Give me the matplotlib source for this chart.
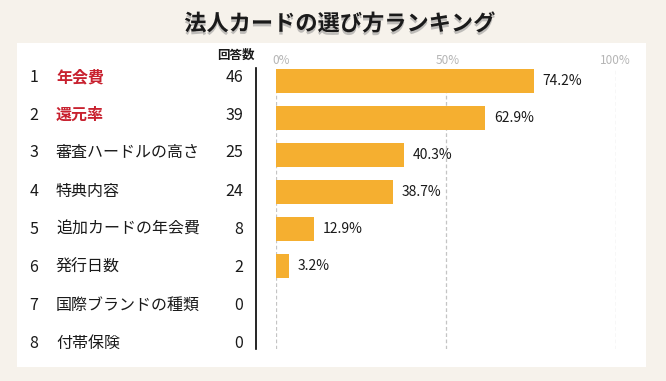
import matplotlib
matplotlib.use('Agg')
import matplotlib.pyplot as plt
import matplotlib.patheffects as pe
from matplotlib.patches import Rectangle

plt.rcParams['font.family'] = ['Noto Sans CJK JP', 'DejaVu Sans']

TITLE = "法人カードの選び方ランキング"
RANKS = [1, 2, 3, 4, 5, 6, 7, 8]
ITEMS = ["年会費", "還元率", "審査ハードルの高さ", "特典内容",
         "追加カードの年会費", "発行日数", "国際ブランドの種類", "付帯保険"]
COUNTS = [46, 39, 25, 24, 8, 2, 0, 0]
PERCENTS = [74.2, 62.9, 40.3, 38.7, 12.9, 3.2, 0, 0]
# bar lengths as drawn in the picture (% of the 0-100 scale)
BAR_LEN = [76.0, 61.6, 37.7, 34.5, 11.3, 3.9, 0, 0]
HIGHLIGHT = [True, True, False, False, False, False, False, False]
XTICKS = [0, 50, 100]

W, H = 666, 381
BG = "#f6f2eb"
BAR = "#f5af30"
RED = "#c8212f"

fig = plt.figure(figsize=(W / 100, H / 100), dpi=100, facecolor=BG)

# white panel (behind the axes)
fig.patches.append(Rectangle((17 / W, 1 - 367 / H), (646 - 17) / W, (367 - 43) / H,
                             transform=fig.transFigure, facecolor="white",
                             edgecolor="none", zorder=-1))

fig.text(340 / W, 1 - 24 / H, TITLE, ha="center", va="center", fontsize=16,
         fontweight="bold", color="#1a1a1a",
         path_effects=[pe.withSimplePatchShadow(offset=(0, -2), shadow_rgbFace="#888888", alpha=0.5)])

# axes: x 0..100 from px 275.7 to 615.7, y top 68 px to bottom 349 px
x0, x1 = 275.7, 615.7
ytop, ybot = 68, 349
ax = fig.add_axes([x0 / W, 1 - ybot / H, (x1 - x0) / W, (ybot - ytop) / H])
ax.set_facecolor("none")
row0, step = 81, 37
ax.set_xlim(0, 100)
ax.set_ylim((ybot - row0) / step, (ytop - row0) / step)

for t in XTICKS:
    ax.axvline(t, color="#c4c4c4", lw=0.9, ls=(0, (3, 2)), zorder=1)

ypos = list(range(len(ITEMS)))
ax.barh(ypos, BAR_LEN, height=24 / step, color=BAR, zorder=2)

for y, b, p in zip(ypos, BAR_LEN, PERCENTS):
    if p > 0:
        ax.annotate(f"{p:.1f}%", (b, y), xytext=(6.2, 0), textcoords="offset points",
                    ha="left", va="center", fontsize=10, color="#1a1a1a")

for s in ax.spines.values():
    s.set_visible(False)
ax.set_xticks([])
ax.set_yticks([])
for t in XTICKS:
    ax.annotate(f"{t}%", (t, (ytop - 8 - row0) / step),
                xytext=(-2.2 if t == 0 else 1.5 if t == 50 else 0, 0),
                textcoords="offset points",
                ha="left" if t == 0 else "center", va="center",
                fontsize=8.5, color="#b5b5b5", annotation_clip=False)

# left table: rank, item, count (rows spaced 38 px from y=77 px)
for i, (r, name, c, hl) in enumerate(zip(RANKS, ITEMS, COUNTS, HIGHLIGHT)):
    yf = 1 - (77 + 38 * i) / H
    fig.text(34 / W, yf, str(r), ha="center", va="center",
             fontsize=11.5, color="#1a1a1a")
    fig.text(56 / W, yf, name, ha="left", va="center", fontsize=11.5,
             color=RED if hl else "#1a1a1a", fontweight="bold" if hl else "normal")
    fig.text(243 / W, yf, str(c), ha="right", va="center",
             fontsize=11.5, color="#1a1a1a")

fig.text(236 / W, 1 - 55 / H, "回答数", ha="center", va="center", fontsize=9,
         fontweight="bold", color="#1a1a1a")

# vertical divider
fig.add_artist(plt.Line2D([256.3 / W, 256.3 / W], [1 - 68 / H, 1 - 349 / H],
                          color="black", lw=1.2, transform=fig.transFigure))

fig.savefig("out.png", dpi=100, facecolor=BG)
